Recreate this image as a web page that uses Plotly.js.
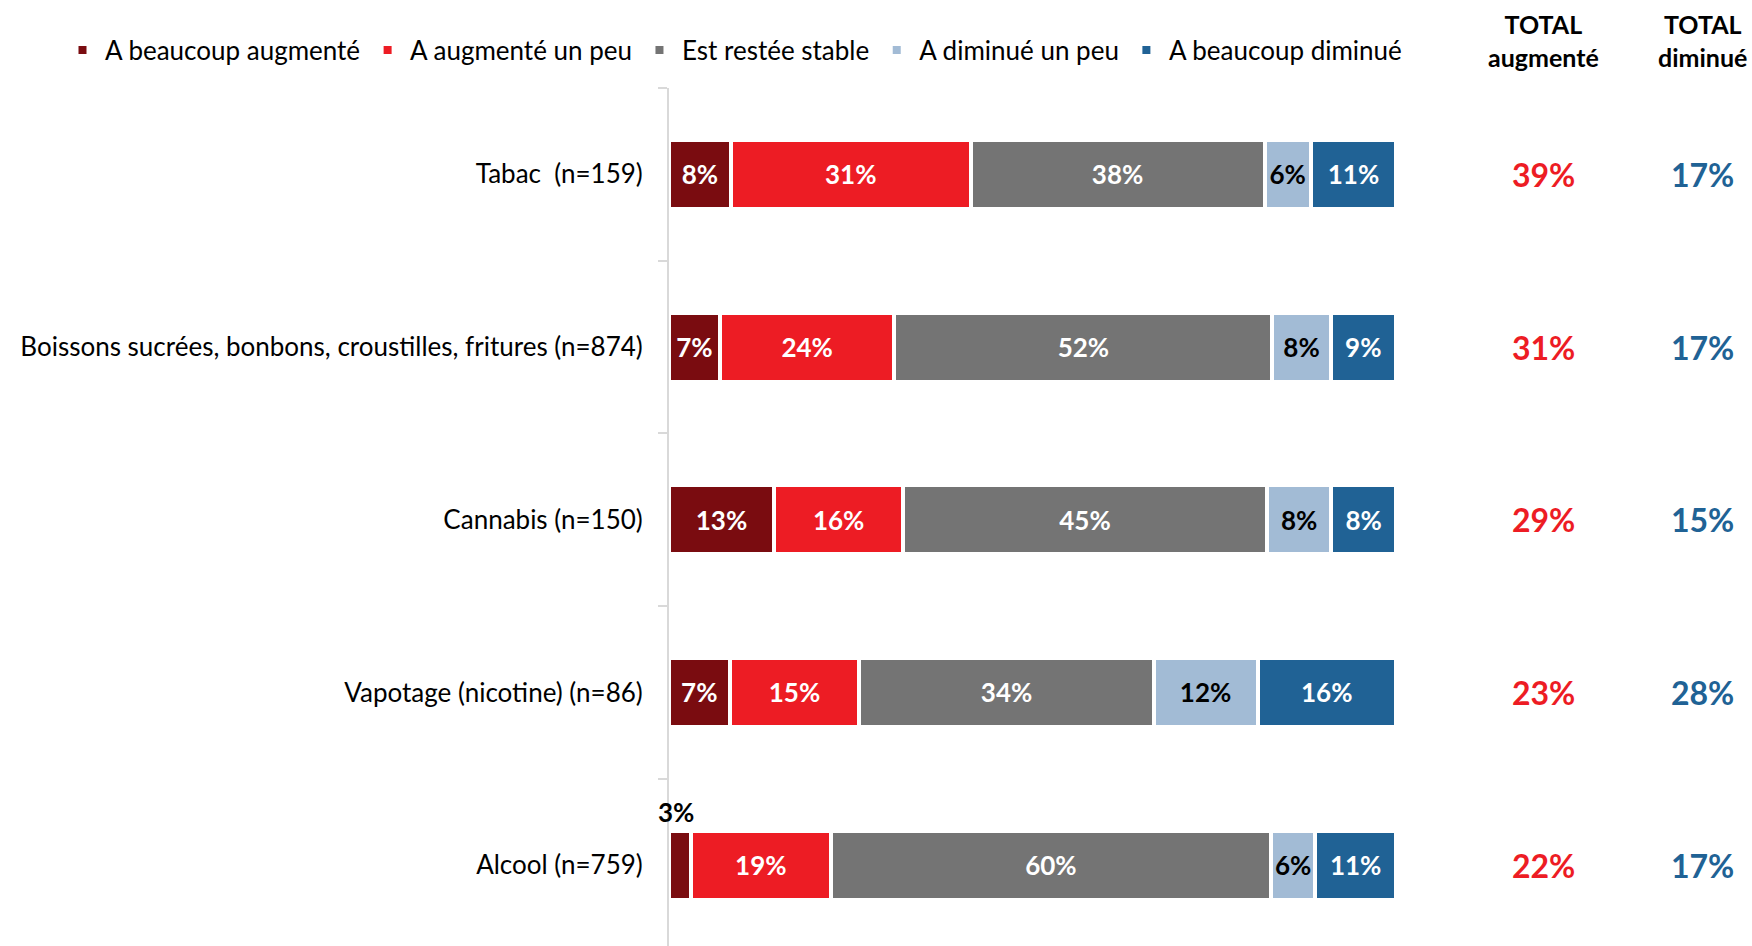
<!DOCTYPE html>
<html>
<head>
<meta charset="utf-8">
<script src="https://cdn.plot.ly/plotly-3.0.1.min.js"></script>
<style>
  html, body { margin: 0; padding: 0; background: #fff; }
  #chart { width: 1752px; height: 946px; }
</style>
</head>
<body>
<div id="chart"></div>
<script>
// ---- Data ----
const categories = [
  'Tabac \u00a0(n=159)',
  'Boissons sucrées, bonbons, croustilles, fritures (n=874)',
  'Cannabis (n=150)',
  'Vapotage (nicotine) (n=86)',
  'Alcool (n=759)'
];
const seriesNames = ['A beaucoup augmenté', 'A augmenté un peu', 'Est restée stable', 'A diminué un peu', 'A beaucoup diminué'];
const beaucoupAugmente = [8, 7, 13, 7, 3];
const augmenteUnPeu   = [31, 24, 16, 15, 19];
const resteeStable    = [38, 52, 45, 34, 60];
const diminueUnPeu    = [6, 8, 8, 12, 6];
const beaucoupDiminue = [11, 9, 8, 16, 11];
const totalAugmente   = [39, 31, 29, 23, 22];
const totalDiminue    = [17, 17, 15, 28, 17];
const headerAugmente = 'TOTAL<br>augmenté';
const headerDiminue  = 'TOTAL<br>diminué';

// ---- Styles ----
const colors = ['#7a0c10', '#ed1c24', '#747474', '#a2bbd5', '#206295'];
const textColors = ['#ffffff', '#ffffff', '#ffffff', '#000000', '#ffffff'];
const FONT = 'Lato, "Open Sans", sans-serif';
const series = [beaucoupAugmente, augmenteUnPeu, resteeStable, diminueUnPeu, beaucoupDiminue];
const SMALL = 5;

// geometry helpers (pixels -> paper)
const W = 1752, H = 946, ML = 669, MR = 356, MT = 88, MB = 0;
const PW = W - ML - MR, PH = H - MT - MB;
const px2paperX = px => (px - ML) / PW;
const px2paperY = py => (H - MB - py) / PH;

const traces = series.map((vals, i) => ({
  type: 'bar',
  orientation: 'h',
  name: seriesNames[i],
  y: categories,
  x: vals,
  text: vals.map(v => v >= SMALL ? v + '%' : ''),
  textposition: 'inside',
  insidetextanchor: 'middle',
  textangle: 0,
  constraintext: 'none',
  textfont: { family: FONT, size: 26, color: textColors[i], weight: 700 },
  marker: { color: colors[i], line: { color: '#ffffff', width: 4 } },
  hoverinfo: 'skip'
}));

const annotations = [];
// small values labelled above the bar
categories.forEach((cat, r) => {
  const rowSum = series.reduce((s, arr) => s + arr[r], 0);
  let cum = 0;
  series.forEach((arr, i) => {
    const v = arr[r];
    if (v < SMALL) {
      annotations.push({
        x: (cum + v / 2) / rowSum * 100, y: cat, xref: 'x', yref: 'y',
        text: v + '%', showarrow: false, yshift: 53, xshift: -4,
        font: { family: FONT, size: 26, color: '#000000', weight: 700 }
      });
    }
    cum += v;
  });
});
// totals columns
const colAug = px2paperX(1543), colDim = px2paperX(1702);
categories.forEach((cat, r) => {
  annotations.push({
    x: colAug, xref: 'paper', y: cat, yref: 'y', text: totalAugmente[r] + '%',
    showarrow: false, xanchor: 'center', yanchor: 'middle',
    font: { family: FONT, size: 32, color: '#ed1c24', weight: 700 }
  });
  annotations.push({
    x: colDim, xref: 'paper', y: cat, yref: 'y', text: totalDiminue[r] + '%',
    showarrow: false, xanchor: 'center', yanchor: 'middle',
    font: { family: FONT, size: 32, color: '#206295', weight: 700 }
  });
});
annotations.push({
  x: colAug, xref: 'paper', y: px2paperY(41), yref: 'paper', text: headerAugmente,
  showarrow: false, xanchor: 'center', yanchor: 'middle', align: 'center',
  font: { family: FONT, size: 25, color: '#000000', weight: 700 }
});
annotations.push({
  x: px2paperX(1702), xref: 'paper', y: px2paperY(41), yref: 'paper', text: headerDiminue,
  showarrow: false, xanchor: 'center', yanchor: 'middle', align: 'center',
  font: { family: FONT, size: 25, color: '#000000', weight: 700 }
});

const layout = {
  width: W, height: H,
  paper_bgcolor: '#ffffff', plot_bgcolor: '#ffffff',
  margin: { l: ML, r: MR, t: MT, b: MB, pad: 0, autoexpand: false },
  barmode: 'stack',
  barnorm: 'percent',
  bargap: 0.6,
  font: { family: FONT, size: 26, color: '#000000' },
  showlegend: true,
  legend: {
    orientation: 'h', xref: 'paper', yref: 'paper',
    x: px2paperX(60), xanchor: 'left', y: px2paperY(50), yanchor: 'middle',
    font: { family: FONT, size: 26, color: '#000000' },
    itemwidth: 35, traceorder: 'normal', bgcolor: 'rgba(0,0,0,0)'
  },
  xaxis: {
    range: [0, 100], showgrid: false, zeroline: false, showticklabels: false,
    showline: false, ticks: '', fixedrange: true
  },
  yaxis: {
    type: 'category', categoryorder: 'array', categoryarray: categories,
    range: [4.468, -0.5], showgrid: false, zeroline: false,
    showline: true, linecolor: '#d9d9d9', linewidth: 2,
    ticks: 'outside', tickson: 'boundaries', ticklen: 9, tickcolor: '#d9d9d9', tickwidth: 2,
    ticklabelstandoff: 19,
    tickfont: { family: FONT, size: 26, color: '#000000' },
    fixedrange: true
  },
  annotations: annotations
};

Plotly.newPlot('chart', traces, layout, { displayModeBar: false, responsive: false });
</script>
</body>
</html>
